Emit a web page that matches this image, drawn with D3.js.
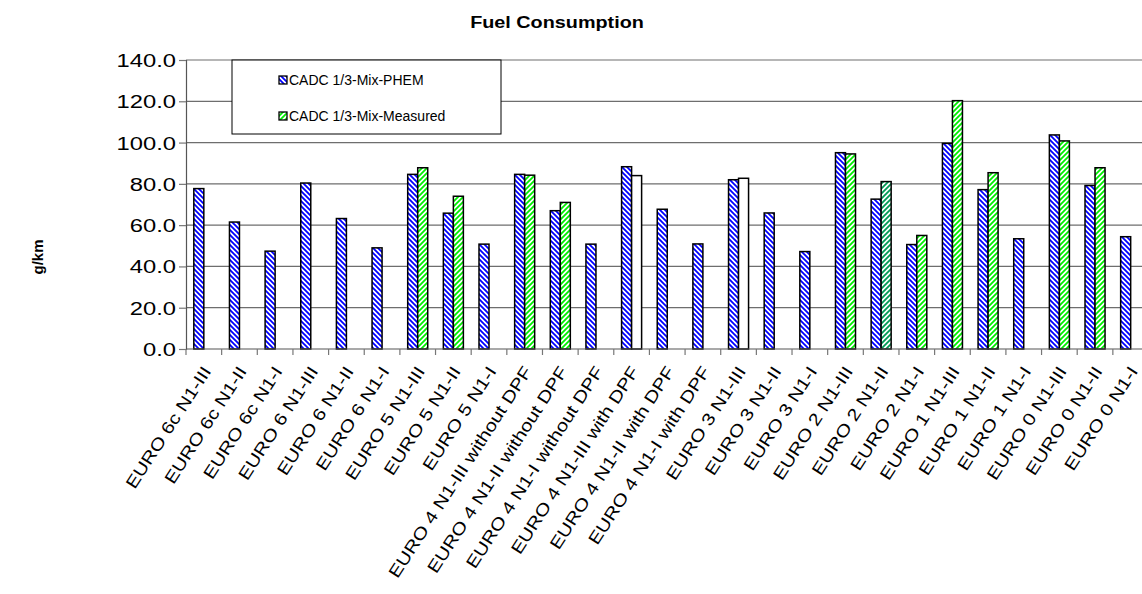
<!DOCTYPE html>
<html>
<head>
<meta charset="utf-8">
<script src="https://cdnjs.cloudflare.com/ajax/libs/d3/7.8.5/d3.min.js"></script>
<style>
  body { margin: 0; background: #fff; }
  text { font-family: "Liberation Sans", Arial, sans-serif; fill: #000; }
</style>
</head>
<body>
<div id="viz"></div>
<script>
// categories along the x axis
var categories = [
  "EURO 6c N1-III", "EURO 6c N1-II", "EURO 6c N1-I",
  "EURO 6 N1-III", "EURO 6 N1-II", "EURO 6 N1-I",
  "EURO 5 N1-III", "EURO 5 N1-II", "EURO 5 N1-I",
  "EURO 4 N1-III without DPF", "EURO 4 N1-II without DPF", "EURO 4 N1-I without DPF",
  "EURO 4 N1-III with DPF", "EURO 4 N1-II with DPF", "EURO 4 N1-I with DPF",
  "EURO 3 N1-III", "EURO 3 N1-II", "EURO 3 N1-I",
  "EURO 2 N1-III", "EURO 2 N1-II", "EURO 2 N1-I",
  "EURO 1 N1-III", "EURO 1 N1-II", "EURO 1 N1-I",
  "EURO 0 N1-III", "EURO 0 N1-II", "EURO 0 N1-I"
];

var seriesNames = ["CADC 1/3-Mix-PHEM", "CADC 1/3-Mix-Measured"];

// g/km
var phem = [77.7, 61.5, 47.4, 80.4, 63.2, 49.0, 84.6, 65.8, 50.8,
            84.6, 67.0, 50.8, 88.3, 67.7, 50.9, 82.0, 65.9, 47.2,
            95.1, 72.6, 50.6, 99.6, 77.2, 53.4, 103.7, 79.2, 54.4];
var measured = [null, null, null, null, null, null, 87.8, 74.0, null,
                84.2, 71.0, null, 84.0, null, null, 82.7, null, null,
                94.5, 81.1, 55.0, 120.3, 85.4, null, 100.8, 87.8, null];

var yTicks = [0, 20, 40, 60, 80, 100, 120, 140];

// a few measured bars are drawn differently in the original
var measuredStyle = { 12: "plain", 15: "plain", 19: "teal" };

var W = 1142, H = 594;
var plot = { left: 186, right: 1148.5, top: 60, bottom: 349 };

var svg = d3.select("#viz").append("svg")
  .attr("width", W).attr("height", H);

// hatch patterns
var defs = svg.append("defs");
function hatch(id, color, dir) {
  var s = 5;
  var p = defs.append("pattern")
    .attr("id", id)
    .attr("patternUnits", "userSpaceOnUse")
    .attr("width", s).attr("height", s);
  p.append("rect").attr("width", s).attr("height", s).attr("fill", "#fff");
  var d = dir == "back"
    ? "M-1,-1 L6,6 M-1,4 L1,6 M4,-1 L6,1"
    : "M-1,6 L6,-1 M-1,1 L1,-1 M4,6 L6,4";
  p.append("path").attr("d", d)
    .attr("stroke", color).attr("stroke-width", 1.8);
}
hatch("hBlue", "#0000ff", "back");
hatch("hGreen", "#00ee00", "fwd");
hatch("hTeal", "#009a55", "fwd");

var x = d3.scaleBand().domain(categories)
  .range([plot.left, plot.right]).padding(0);
var x1 = d3.scaleBand().domain(seriesNames)
  .range([0, x.bandwidth()]).paddingInner(0).paddingOuter(0.78);
var y = d3.scaleLinear().domain([0, 140]).range([plot.bottom, plot.top]);

// gridlines
svg.append("g").selectAll("line")
  .data(yTicks.slice(1)).enter()
  .append("line")
  .attr("x1", plot.left).attr("x2", plot.right)
  .attr("y1", function(d) { return y(d) }).attr("y2", function(d) { return y(d) })
  .attr("stroke", "#6e6e6e").attr("stroke-width", 1.2);

// bars
var bars = svg.append("g");
bars.selectAll(".phem")
  .data(phem).enter()
  .append("rect")
  .attr("class", "phem")
  .attr("x", function(d, i) { return x(categories[i]) + x1(seriesNames[0]) })
  .attr("y", function(d) { return y(d) })
  .attr("width", x1.bandwidth())
  .attr("height", function(d) { return y(0) - y(d) })
  .attr("fill", "url(#hBlue)")
  .attr("stroke", "#000").attr("stroke-width", 1.5);

bars.selectAll(".meas")
  .data(measured.map(function(v, i) { return { v: v, i: i } })
    .filter(function(d) { return d.v != null })).enter()
  .append("rect")
  .attr("class", "meas")
  .attr("x", function(d) { return x(categories[d.i]) + x1(seriesNames[1]) })
  .attr("y", function(d) { return y(d.v) })
  .attr("width", x1.bandwidth())
  .attr("height", function(d) { return y(0) - y(d.v) })
  .attr("fill", function(d) {
    var s = measuredStyle[d.i];
    if (s == "plain") return "#fff";
    if (s == "teal") return "url(#hTeal)";
    return "url(#hGreen)";
  })
  .attr("stroke", "#000").attr("stroke-width", 1.5);

// y axis
var yAxis = svg.append("g")
  .attr("transform", "translate(" + plot.left + ",0)")
  .call(d3.axisLeft(y).tickValues(yTicks).tickFormat(d3.format(".1f"))
    .tickSize(7).tickPadding(0));
yAxis.select(".domain").attr("stroke", "#555").attr("stroke-width", 1.2);
yAxis.selectAll(".tick line").attr("stroke", "#777").attr("stroke-width", 1.2);
yAxis.selectAll(".tick text")
  .attr("font-size", 18)
  .attr("font-family", null)
  .attr("x", null).attr("dy", "0.36em")
  .attr("transform", "translate(-10,0) scale(1.32,1)");

// x axis: ticks on category boundaries
var xAxis = svg.append("g");
xAxis.append("line")
  .attr("x1", plot.left).attr("x2", plot.right)
  .attr("y1", plot.bottom).attr("y2", plot.bottom)
  .attr("stroke", "#555").attr("stroke-width", 1.2);
xAxis.selectAll(".xt")
  .data(categories).enter()
  .append("line")
  .attr("class", "xt")
  .attr("x1", function(d) { return x(d) }).attr("x2", function(d) { return x(d) })
  .attr("y1", plot.bottom).attr("y2", plot.bottom + 6)
  .attr("stroke", "#777").attr("stroke-width", 1.2);
xAxis.selectAll(".xl")
  .data(categories).enter()
  .append("text")
  .attr("class", "xl")
  .attr("font-size", 17)
  .attr("text-anchor", "end")
  .attr("dy", "0.35em")
  .attr("transform", function(d) {
    return "translate(" + (x(d) + x.bandwidth() / 2 + 3) + "," + 368 + ") rotate(-57) scale(1.2,1)";
  })
  .text(function(d) { return d });

// title and axis label
svg.append("text")
  .attr("transform", "translate(557,28) scale(1.2,1)")
  .attr("text-anchor", "middle")
  .attr("font-size", 16.5).attr("font-weight", "bold")
  .text("Fuel Consumption");

svg.append("text")
  .attr("transform", "translate(43,257) rotate(-90)")
  .attr("text-anchor", "middle")
  .attr("font-size", 15).attr("font-weight", "bold")
  .text("g/km");

// legend
var lg = svg.append("g");
lg.append("rect")
  .attr("x", 232).attr("y", 60).attr("width", 269).attr("height", 74)
  .attr("fill", "#fff").attr("stroke", "#000").attr("stroke-width", 1);
var legendY = [80, 116];
var legendFill = ["url(#hBlue)", "url(#hGreen)"];
seriesNames.forEach(function(name, i) {
  lg.append("rect")
    .attr("x", 279).attr("y", legendY[i] - 4)
    .attr("width", 8).attr("height", 8)
    .attr("fill", legendFill[i])
    .attr("stroke", "#000").attr("stroke-width", 1.3);
  lg.append("text")
    .attr("x", 289).attr("y", legendY[i]).attr("dy", "0.36em")
    .attr("font-size", 14)
    .text(name);
});
</script>
</body>
</html>
